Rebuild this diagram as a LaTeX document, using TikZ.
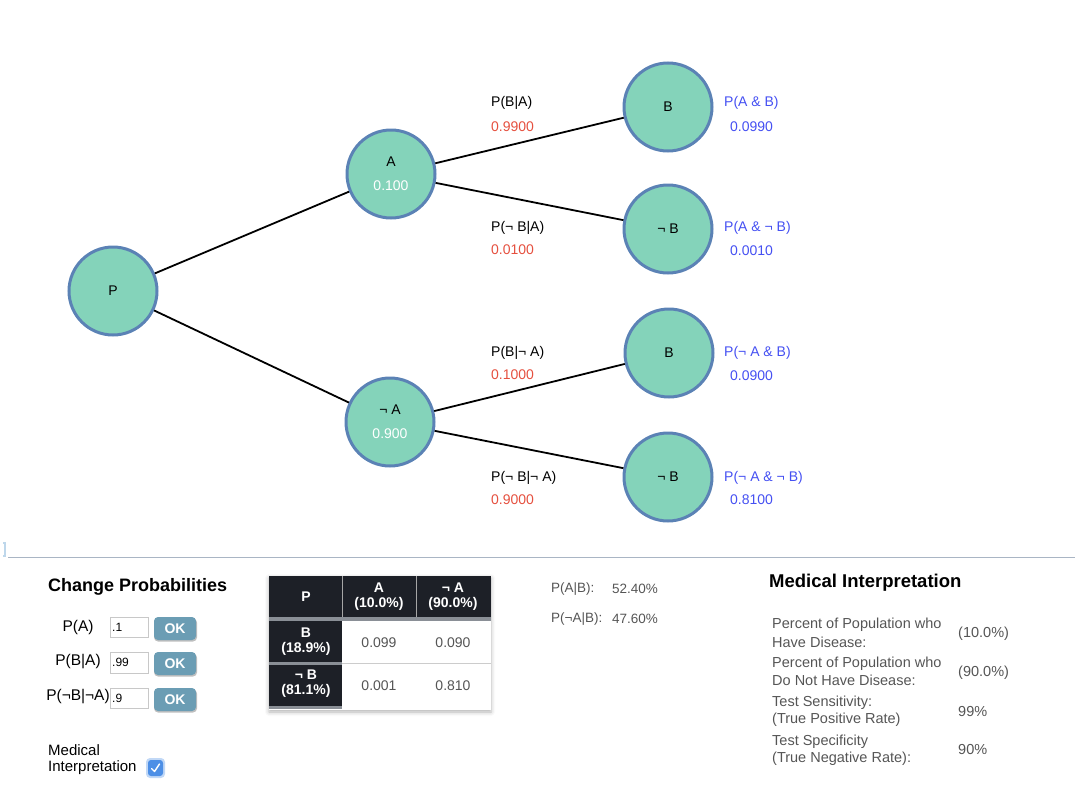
\documentclass[tikz,border=0pt]{standalone}
\usepackage{fontspec}
\setmainfont{Liberation Sans}
\usetikzlibrary{shadows.blur}
\definecolor{mint}{HTML}{84D3BA}
\definecolor{rimblue}{HTML}{5B82B5}
\definecolor{redlab}{HTML}{E5503F}
\definecolor{bluelab}{HTML}{4550F2}
\definecolor{darkcell}{HTML}{1D2027}
\definecolor{barg}{HTML}{8A8F96}
\definecolor{txtg}{HTML}{555555}
\definecolor{okbtn}{HTML}{6B9DB4}
\definecolor{chk}{HTML}{4D8FE6}
\definecolor{sepline}{HTML}{A9B5C4}
\definecolor{markblue}{HTML}{BED7EB}
\definecolor{inborder}{HTML}{C8C8C8}
\newcommand{\fs}[1]{\fontsize{#1}{#1}\selectfont}
\tikzset{
  treenode/.style={circle, draw=rimblue, fill=mint, line width=3pt, minimum size=88pt, inner sep=0pt, align=center, font=\fs{14}},
  edge/.style={line width=1.8pt, black},
  condlab/.style={anchor=west, font=\fs{14}, inner sep=0pt},
  redval/.style={anchor=west, font=\fs{14}, text=redlab, inner sep=0pt},
  bluelabel/.style={anchor=west, font=\fs{14}, text=bluelab, inner sep=0pt},
  paneltitle/.style={anchor=west, font=\bfseries\fs{18}, inner sep=0pt},
  plain/.style={anchor=west, font=\fs{15}, inner sep=0pt},
  gtxt/.style={anchor=west, font=\fs{14.5}, text=txtg, inner sep=0pt},
  inbox/.style={draw=inborder, fill=white, line width=0.8pt},
  okbox/.style={fill=okbtn, rounded corners=4pt},
  oktext/.style={font=\bfseries\fs{14}, text=white, inner sep=0pt},
  hdtext/.style={font=\bfseries\fs{14}, text=white, align=center, inner sep=0pt},
  celltext/.style={font=\fs{14}, text=txtg, inner sep=0pt},
}
\begin{document}
\begin{tikzpicture}[x=1pt,y=-1pt]
\useasboundingbox (0,0) rectangle (1088,806);
% ---------- tree ----------
\node[treenode] (P) at (113,291) {P};
\node[treenode] (A) at (391,174) {A\\[10pt]\textcolor{white}{0.100}};
\node[treenode] (nA) at (390,422) {¬ A\\[10pt]\textcolor{white}{0.900}};
\node[treenode] (B1) at (668,107) {B};
\node[treenode] (B2) at (668,229) {¬ B};
\node[treenode] (B3) at (669,353) {B};
\node[treenode] (B4) at (668,477) {¬ B};
\draw[edge] (P) -- (A);
\draw[edge] (P) -- (nA);
\draw[edge] (A) -- (B1);
\draw[edge] (A) -- (B2);
\draw[edge] (nA) -- (B3);
\draw[edge] (nA) -- (B4);
% conditional labels
\node[condlab] (l1) at (491,103) {P(B|A)};
\node[redval]  (v1) at (491,127) {0.9900};
\node[condlab] (l2) at (491,228) {P(¬ B|A)};
\node[redval]  (v2) at (491,250) {0.0100};
\node[condlab] (l3) at (491,353) {P(B|¬ A)};
\node[redval]  (v3) at (491,375) {0.1000};
\node[condlab] (l4) at (491,478) {P(¬ B|¬ A)};
\node[redval]  (v4) at (491,500) {0.9000};
% joint labels
\node[bluelabel] (j1) at (724,103) {P(A \& B)};
\node[bluelabel] (k1) at (730,127) {0.0990};
\node[bluelabel] (j2) at (724,228) {P(A \& ¬ B)};
\node[bluelabel] (k2) at (730,251) {0.0010};
\node[bluelabel] (j3) at (724,353) {P(¬ A \& B)};
\node[bluelabel] (k3) at (730,376) {0.0900};
\node[bluelabel] (j4) at (724,478) {P(¬ A \& ¬ B)};
\node[bluelabel] (k4) at (730,500) {0.8100};
% ---------- separator ----------
\draw[sepline, line width=1pt] (8,557) -- (1075,557);
\draw[markblue, line width=1.2pt] (3,543) -- (5,543) -- (5,556) -- (3,556);
% ---------- change probabilities ----------
\node[paneltitle] (cp) at (48,587) {Change Probabilities};
\node[font=\fs{15.5}, inner sep=0pt] (pa) at (78,627) {P(A)};
\node[font=\fs{15.5}, inner sep=0pt] (pba) at (78,662) {P(B|A)};
\node[font=\fs{15.5}, inner sep=0pt] (pnb) at (78,697) {P(¬B|¬A)};
\draw[inbox] (110,617) rectangle (148,637);
\draw[inbox] (110,652) rectangle (148,673);
\draw[inbox] (110,688) rectangle (148,708);
\node[anchor=west, font=\fs{12}, inner sep=0pt] (i1) at (112,627.5) {.1};
\node[anchor=west, font=\fs{12}, inner sep=0pt] (i2) at (112,662.5) {.99};
\node[anchor=west, font=\fs{12}, inner sep=0pt] (i3) at (112,698) {.9};
\foreach \y/\n in {617/o1,652/o2,688/o3}{
  \fill[black!25, rounded corners=4pt] (154,\y+1.5) rectangle (197,\y+24.5);
  \fill[okbox] (154,\y) rectangle (196,\y+23);
  \node[oktext] (\n) at (175,\y+11.5) {OK};
}
\node[plain] (med1) at (48,750) {Medical};
\node[plain] (med2) at (48,768) {Interpretation};
\fill[chk!35, rounded corners=4pt] (146,758) rectangle (165,778);
\fill[chk, rounded corners=3pt] (148,760) rectangle (163,776);
\draw[white, line width=1.4pt, line cap=round, line join=round] (151.5,768.5) -- (154.5,771.5) -- (159.5,764);
% ---------- table ----------
\fill[white, blur shadow={shadow xshift=0pt, shadow yshift=-2pt, shadow blur radius=4pt, shadow opacity=30}] (269,576) rectangle (491,710);
\fill[darkcell] (269,576) rectangle (491,617);
\fill[barg] (269,617) rectangle (491,621);
\fill[darkcell] (269,621) rectangle (342,662);
\fill[barg] (269,662) rectangle (342,665);
\fill[darkcell] (269,665) rectangle (342,706);
\fill[barg] (269,706) rectangle (342,709);
\draw[black!20, line width=0.8pt] (342,663.5) -- (491,663.5);
\draw[gray!70, line width=0.8pt] (342,576) -- (342,617);
\draw[gray!70, line width=0.8pt] (416,576) -- (416,617);
\node[hdtext] (h0) at (306,597) {P};
\node[hdtext] (h1) at (379,597) {A\\[1pt](10.0\%)};
\node[hdtext] (h2) at (453,597) {¬ A\\[1pt](90.0\%)};
\node[hdtext] (r1) at (306,642) {B\\[1pt](18.9\%)};
\node[hdtext] (r2) at (306,684) {¬ B\\[1pt](81.1\%)};
\node[celltext] (c11) at (379,643) {0.099};
\node[celltext] (c12) at (453,643) {0.090};
\node[celltext] (c21) at (379,686) {0.001};
\node[celltext] (c22) at (453,686) {0.810};
% ---------- posterior ----------
\node[gtxt, font=\fs{13.5}] (pab) at (551,589) {P(A|B):};
\node[gtxt, font=\fs{13.5}] (pabv) at (612,589) {52.40\%};
\node[gtxt, font=\fs{13.5}] (pnab) at (551,619) {P(¬A|B):};
\node[gtxt, font=\fs{13.5}] (pnabv) at (612,619) {47.60\%};
% ---------- medical interpretation ----------
\node[paneltitle, font=\bfseries\fs{18.5}] (mi) at (769,583) {Medical Interpretation};
\node[gtxt] (m1a) at (772,625) {Percent of Population who};
\node[gtxt] (m1b) at (772,642) {Have Disease:};
\node[gtxt] (m2a) at (772,664) {Percent of Population who};
\node[gtxt] (m2b) at (772,680) {Do Not Have Disease:};
\node[gtxt] (m3a) at (772,703) {Test Sensitivity:};
\node[gtxt] (m3b) at (772,720) {(True Positive Rate)};
\node[gtxt] (m4a) at (772,742) {Test Specificity};
\node[gtxt] (m4b) at (772,759) {(True Negative Rate):};
\node[gtxt] (mv1) at (958,634) {(10.0\%)};
\node[gtxt] (mv2) at (958,673) {(90.0\%)};
\node[gtxt] (mv3) at (958,712) {99\%};
\node[gtxt] (mv4) at (958,750) {90\%};
\end{tikzpicture}
\end{document}
